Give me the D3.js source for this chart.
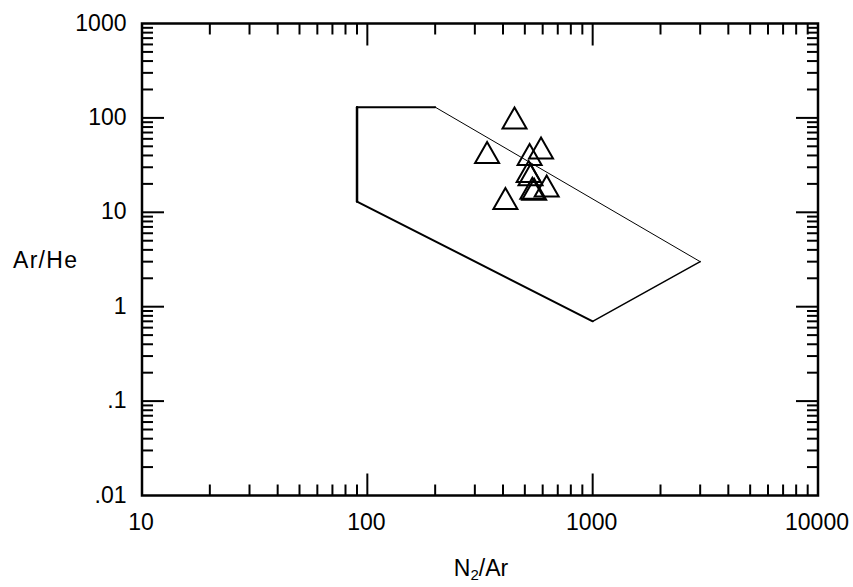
<!DOCTYPE html>
<html><head><meta charset="utf-8">
<script src="https://cdn.jsdelivr.net/npm/d3@7"></script>
<style>body{margin:0;background:#fff}svg{display:block}text{font-family:"Liberation Sans",Arial,sans-serif;fill:#000}</style>
</head><body><svg id="c" width="853" height="587"></svg>
<script>
// Data
const n2ArValues = [450, 340, 410, 590, 525, 520, 530, 540, 550, 625];
const arHeValues = [100, 43, 14, 48, 41, 27, 25, 18, 17.5, 19];
const envelopeN2Ar = [90, 200, 3000, 1000, 90, 90];
const envelopeArHe = [130, 130, 3, 0.7, 13, 130];
const xTickValues = [10, 100, 1000, 10000];
const xTickLabels = ["10", "100", "1000", "10000"];
const yTickValues = [0.01, 0.1, 1, 10, 100, 1000];
const yTickLabels = [".01", ".1", "1", "10", "100", "1000"];

const svg = d3.select("#c");
const L = 142, R = 818, T = 23.5, B = 495.5;
const x = d3.scaleLog().domain([10, 10000]).range([L, R]);
const y = d3.scaleLog().domain([0.01, 1000]).range([B, T]);

// envelope polygon edges
const edgeW = [2, 1, 1.5, 2, 2.5];
for (let i = 0; i < envelopeN2Ar.length - 1; i++) {
  svg.append("line")
    .attr("x1", x(envelopeN2Ar[i])).attr("y1", y(envelopeArHe[i]))
    .attr("x2", x(envelopeN2Ar[i+1])).attr("y2", y(envelopeArHe[i+1]))
    .attr("stroke", "#000").attr("stroke-width", edgeW[i]).attr("stroke-linecap", "round");
}

// triangles
const pts = n2ArValues.map((v, i) => [v, arHeValues[i]]);
svg.append("g").selectAll("path").data(pts).join("path")
  .attr("d", () => {
    const w = 12, h = 10.5;
    return `M0,${-h}L${w},${h}L${-w},${h}Z`;
  })
  .attr("transform", d => `translate(${x(d[0])},${y(d[1])})`)
  .attr("fill", "none").attr("stroke", "#000").attr("stroke-width", 2).attr("stroke-linejoin", "miter");

// ticks
function minorTicks(domain) {
  const out = [];
  for (let e = Math.log10(domain[0]); e < Math.log10(domain[1]); e++) {
    const base = Math.pow(10, e);
    for (let m = 2; m <= 9; m++) out.push(base * m);
  }
  return out;
}
const tg = svg.append("g").attr("stroke", "#000").attr("stroke-width", 2);
minorTicks(x.domain()).forEach(v => {
  tg.append("line").attr("x1", x(v)).attr("x2", x(v)).attr("y1", B).attr("y2", B - 11);
  tg.append("line").attr("x1", x(v)).attr("x2", x(v)).attr("y1", T).attr("y2", T + 11);
});
xTickValues.slice(1, -1).forEach(v => {
  tg.append("line").attr("x1", x(v)).attr("x2", x(v)).attr("y1", B).attr("y2", B - 22);
  tg.append("line").attr("x1", x(v)).attr("x2", x(v)).attr("y1", T).attr("y2", T + 22);
});
minorTicks(y.domain()).forEach(v => {
  tg.append("line").attr("y1", y(v)).attr("y2", y(v)).attr("x1", L).attr("x2", L + 11);
  tg.append("line").attr("y1", y(v)).attr("y2", y(v)).attr("x1", R).attr("x2", R - 11);
});
yTickValues.slice(1, -1).forEach(v => {
  tg.append("line").attr("y1", y(v)).attr("y2", y(v)).attr("x1", L).attr("x2", L + 22);
  tg.append("line").attr("y1", y(v)).attr("y2", y(v)).attr("x1", R).attr("x2", R - 22);
});

// frame
svg.append("rect").attr("x", L).attr("y", T).attr("width", R - L).attr("height", B - T)
  .attr("fill", "none").attr("stroke", "#000").attr("stroke-width", 2.5);

// tick labels
svg.append("g").selectAll("text").data(xTickValues).join("text")
  .attr("x", d => x(d) - 1).attr("y", 530).attr("text-anchor", "middle")
  .attr("font-size", 23).text((d, i) => xTickLabels[i]);
svg.append("g").selectAll("text").data(yTickValues).join("text")
  .attr("x", 126.5).attr("y", d => y(d) + 7).attr("text-anchor", "end")
  .attr("font-size", 23).text((d, i) => yTickLabels[i]);

// axis titles
svg.append("text").attr("x", 13).attr("y", 268).attr("font-size", 23)
  .attr("textLength", 64).text("Ar/He");
const xt = svg.append("text").attr("x", 481).attr("y", 576).attr("text-anchor", "middle").attr("font-size", 23);
xt.append("tspan").text("N");
xt.append("tspan").attr("font-size", 15).attr("dy", 4).text("2");
xt.append("tspan").attr("dy", -4).text("/Ar");
</script></body></html>
